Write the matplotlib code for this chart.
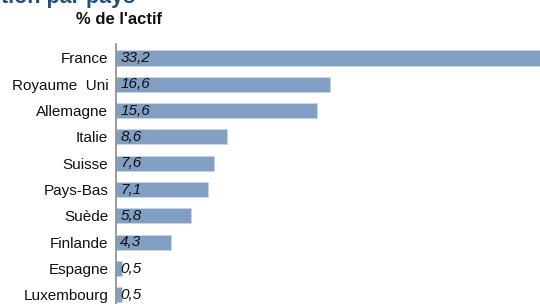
import matplotlib
matplotlib.use('Agg')
import matplotlib.pyplot as plt

plt.rcParams['font.family'] = ['Liberation Sans', 'DejaVu Sans']

pays = ['France', 'Royaume  Uni', 'Allemagne', 'Italie', 'Suisse', 'Pays-Bas',
        'Suède', 'Finlande', 'Espagne', 'Luxembourg']
parts = [33.2, 16.6, 15.6, 8.6, 7.6, 7.1, 5.8, 4.3, 0.5, 0.5]
etiquettes = ['33,2', '16,6', '15,6', '8,6', '7,6', '7,1', '5,8', '4,3', '0,5', '0,5']

W, H = 540, 304
fig = plt.figure(figsize=(W / 100, H / 100), dpi=100)

# axes placed in pixel terms: axis line at x=116, rows 26.3 px apart
row = 26.33
y_top, y_bot = -0.53, 9.6
top_px = 58 + y_top * row
bot_px = 58 + y_bot * row
ax = fig.add_axes([116 / W, 1 - bot_px / H, (W - 116) / W, (bot_px - top_px) / H])

bar_color = '#809fc3'
pos = list(range(len(pays)))
ax.barh(pos, parts, height=0.57, color=bar_color, edgecolor='#c9d6e6', linewidth=0.6)
ax.set_xlim(0, (W - 116) / 12.9)
ax.set_ylim(y_bot, y_top)

for i, lab in enumerate(etiquettes):
    ax.annotate(lab, xy=(0, pos[i]), xytext=(3, 0), textcoords='offset points',
                ha='left', va='center', fontsize=11, style='italic', color='#111111')

ax.set_yticks(pos)
ax.set_yticklabels(pays, fontsize=11, color='#111111')
ax.tick_params(axis='y', length=0, pad=5.5)
ax.set_xticks([])
for s in ['top', 'right', 'bottom']:
    ax.spines[s].set_visible(False)
ax.spines['left'].set_color('#8a8a8a')
ax.spines['left'].set_linewidth(1.2)

# titles (top one is cut by the frame)
fig.text(135 / W, 1 - 3.3 / H, 'Répartition par pays', ha='right', va='baseline',
         fontsize=15.5, fontweight='bold', color='#1f4e8a')
fig.text(118.5 / W, 1 - 19 / H, "% de l'actif", ha='center', va='center',
         fontsize=12, fontweight='bold', color='#111111')

fig.savefig('out.png', dpi=100)
